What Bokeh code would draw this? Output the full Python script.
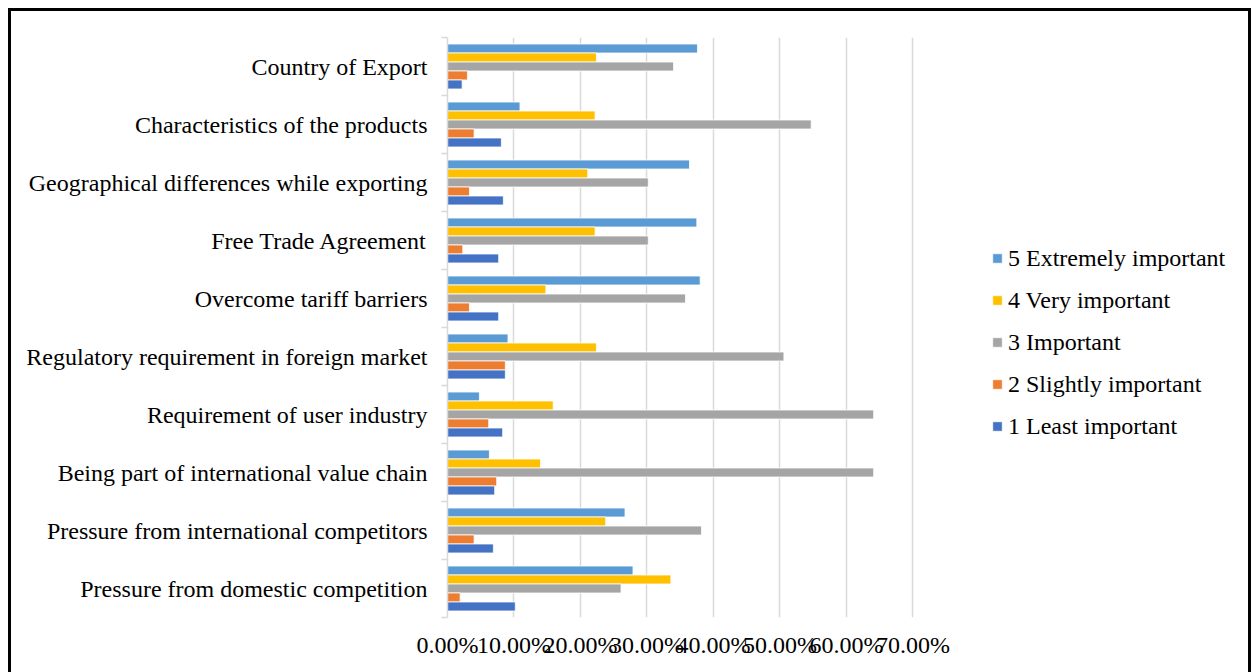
from bokeh.plotting import figure
from bokeh.models import (Range1d, LinearAxis, FixedTicker,
                          NumeralTickFormatter, Legend, LegendItem, ColumnDataSource, Grid)
from bokeh.transform import dodge
from bokeh.embed import file_html
from bokeh.resources import INLINE

categories = [
    "Country of Export",
    "Characteristics of the products",
    "Geographical differences while exporting",
    "Free Trade Agreement",
    "Overcome tariff barriers",
    "Regulatory requirement in foreign market",
    "Requirement of user industry",
    "Being part of international value chain",
    "Pressure from international competitors",
    "Pressure from domestic competition",
]

s5_extremely = [0.376, 0.109, 0.364, 0.375, 0.380, 0.091, 0.048, 0.063, 0.267, 0.279]
s4_very = [0.224, 0.222, 0.211, 0.222, 0.148, 0.224, 0.159, 0.140, 0.238, 0.336]
s3_important = [0.340, 0.547, 0.302, 0.302, 0.358, 0.506, 0.641, 0.641, 0.382, 0.261]
s2_slightly = [0.030, 0.040, 0.033, 0.023, 0.033, 0.087, 0.062, 0.074, 0.040, 0.019]
s1_least = [0.022, 0.081, 0.084, 0.077, 0.077, 0.087, 0.083, 0.071, 0.069, 0.102]

series_names = ["5 Extremely important", "4 Very important", "3 Important",
                "2 Slightly important", "1 Least important"]
series_colors = ["#5B9BD5", "#FFC000", "#A5A5A5", "#ED7D31", "#4472C4"]

x_ticks = [0.0, 0.1, 0.2, 0.3, 0.4, 0.5, 0.6, 0.7]

FONT = "Liberation Serif"
n = len(categories)
# category slot centres, first category at the top
y_centres = [n - i - 0.5 for i in range(n)]

# layout (pixels)
W, H = 1243, 664
BORDER_L, BORDER_R, BORDER_T, BORDER_B = 436, 10, 26, 58
AXIS_PX = 465.4          # pixels spanned by 0 .. 70 %
frame_w = W - BORDER_L - BORDER_R
x_view_end = x_ticks[-1] * frame_w / AXIS_PX

p = figure(width=W, height=H,
           y_range=Range1d(0, n), x_range=Range1d(0, x_view_end),
           output_backend="svg", toolbar_location=None,
           x_axis_location=None, y_axis_location=None,
           min_border_left=BORDER_L, min_border_right=BORDER_R,
           min_border_top=BORDER_T, min_border_bottom=BORDER_B)
p.outline_line_color = None
p.xgrid.grid_line_color = None
p.ygrid.grid_line_color = None
p.styles = {"border-top": "3px solid black", "border-left": "3px solid black",
            "border-right": "3px solid black", "box-sizing": "border-box",
            "margin-left": "8px", "margin-top": "8px"}

src = ColumnDataSource(dict(cat=categories, yc=y_centres, s5=s5_extremely, s4=s4_very,
                            s3=s3_important, s2=s2_slightly, s1=s1_least))
keys = ["s5", "s4", "s3", "s2", "s1"]

grid = Grid(dimension=0, ticker=FixedTicker(ticks=x_ticks),
            grid_line_color="#D9D9D9", grid_line_width=1.5)
p.add_layout(grid)

renderers = []
step = 0.155
for i, (k, c) in enumerate(zip(keys, series_colors)):
    off = (2 - i) * step
    r = p.hbar(y=dodge("yc", off), left=0, right=k, height=step,
               source=src, fill_color=c, line_color="white", line_width=0.8)
    renderers.append(r)

xaxis = LinearAxis(ticker=FixedTicker(ticks=x_ticks),
                   formatter=NumeralTickFormatter(format="0.00%"),
                   axis_line_color=None, major_tick_line_color=None,
                   minor_tick_line_color=None,
                   major_label_text_font=FONT, major_label_text_font_size="24px",
                   major_label_text_color="black", major_label_standoff=8)
p.add_layout(xaxis, "below")

# boundary ticks between categories, with the axis line
tick_axis = LinearAxis(ticker=FixedTicker(ticks=list(range(n + 1))),
                       major_label_overrides={i: "" for i in range(n + 1)},
                       major_label_text_font_size="0px", major_label_standoff=0,
                       axis_line_color="#D9D9D9", axis_line_width=1.5,
                       major_tick_line_color="#D9D9D9", major_tick_line_width=1.5,
                       major_tick_out=6, major_tick_in=0, minor_tick_line_color=None)
p.add_layout(tick_axis, "left")

# category names
label_axis = LinearAxis(ticker=FixedTicker(ticks=y_centres),
                        major_label_overrides={y: c for y, c in zip(y_centres, categories)},
                        major_tick_line_color=None, minor_tick_line_color=None,
                        axis_line_color=None,
                        major_label_text_font=FONT, major_label_text_font_size="24px",
                        major_label_text_color="black", major_label_standoff=8)
p.add_layout(label_axis, "left")

legend = Legend(items=[LegendItem(label=nm, renderers=[r]) for nm, r in zip(series_names, renderers)],
                location=(544, 177), orientation="vertical",
                border_line_color=None, background_fill_alpha=0,
                label_text_font=FONT, label_text_font_size="24px", label_text_color="black",
                glyph_width=12, glyph_height=12, label_standoff=5,
                label_height=28, spacing=14, padding=0, margin=0)
p.add_layout(legend, "center")

open("out.html", "w").write(file_html(p, INLINE))
